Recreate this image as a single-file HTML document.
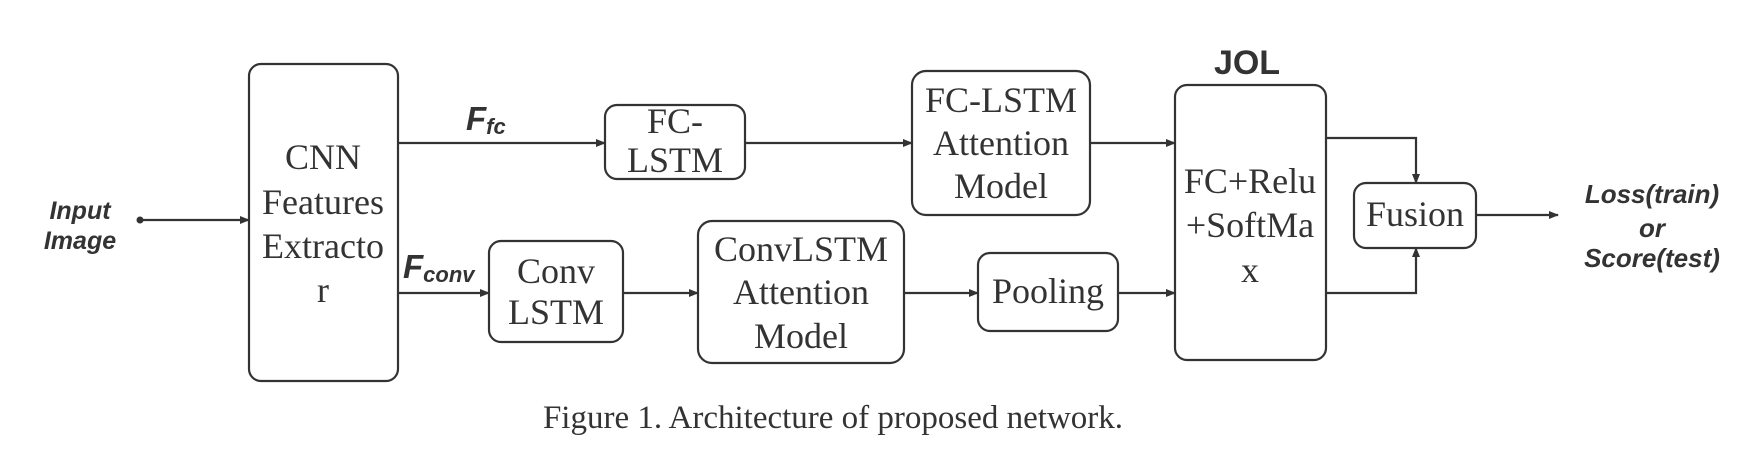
<!DOCTYPE html>
<html><head><meta charset="utf-8"><style>
html,body{margin:0;padding:0;background:#fff;}
svg{display:block;}
.b{fill:#fff;stroke:#333;stroke-width:2.2;}
.l{stroke:#333;stroke-width:2.2;fill:none;}
.t{font-family:"Liberation Serif",serif;font-size:36px;fill:#333;text-anchor:middle;}
.s{font-family:"Liberation Sans",sans-serif;font-weight:bold;font-style:italic;fill:#333;text-anchor:middle;}
</style></head><body>
<svg width="1758" height="456" viewBox="0 0 1758 456">
<defs><marker id="a" markerWidth="10" markerHeight="8" refX="9" refY="4" orient="auto" markerUnits="userSpaceOnUse"><path d="M0,0 L10,4 L0,8 z" fill="#333"/></marker></defs>
<rect class="b" x="249" y="64" width="149" height="317" rx="12"/>
<rect class="b" x="605" y="105" width="140" height="74" rx="12"/>
<rect class="b" x="912" y="71" width="178" height="144" rx="14"/>
<rect class="b" x="1175" y="85" width="151" height="275" rx="12"/>
<rect class="b" x="489" y="241" width="134" height="101" rx="12"/>
<rect class="b" x="698" y="221" width="206" height="142" rx="14"/>
<rect class="b" x="978" y="253" width="140" height="78" rx="12"/>
<rect class="b" x="1354" y="183" width="122" height="65" rx="12"/>
<circle cx="140" cy="220" r="3.5" fill="#333"/>
<line class="l" x1="140" y1="220" x2="249" y2="220" marker-end="url(#a)"/>
<line class="l" x1="398" y1="143" x2="605" y2="143" marker-end="url(#a)"/>
<line class="l" x1="745" y1="143" x2="912" y2="143" marker-end="url(#a)"/>
<line class="l" x1="1090" y1="143" x2="1175" y2="143" marker-end="url(#a)"/>
<line class="l" x1="398" y1="293" x2="489" y2="293" marker-end="url(#a)"/>
<line class="l" x1="623" y1="293" x2="698" y2="293" marker-end="url(#a)"/>
<line class="l" x1="904" y1="293" x2="978" y2="293" marker-end="url(#a)"/>
<line class="l" x1="1118" y1="293" x2="1175" y2="293" marker-end="url(#a)"/>
<polyline class="l" points="1326,138 1416,138 1416,183" marker-end="url(#a)"/>
<polyline class="l" points="1326,293 1416,293 1416,248" marker-end="url(#a)"/>
<line class="l" x1="1476" y1="215" x2="1558" y2="215" marker-end="url(#a)"/>
<text class="s" x="80" y="219" font-size="25">Input</text>
<text class="s" x="80" y="249" font-size="25">Image</text>
<text class="t"><tspan x="323" y="169">CNN</tspan><tspan x="323" y="214">Features</tspan><tspan x="323" y="258">Extracto</tspan><tspan x="323" y="302">r</tspan></text>
<text class="s" x="466" y="130" font-size="33" style="text-anchor:start">F<tspan font-size="22" dy="4">fc</tspan></text>
<text class="s" x="403" y="278" font-size="33" style="text-anchor:start">F<tspan font-size="22" dy="4">conv</tspan></text>
<text class="t"><tspan x="675" y="133">FC-</tspan><tspan x="675" y="172">LSTM</tspan></text>
<text class="t"><tspan x="1001" y="112">FC-LSTM</tspan><tspan x="1001" y="155">Attention</tspan><tspan x="1001" y="198">Model</tspan></text>
<text class="s" x="1247" y="74" font-size="34" style="font-style:normal">JOL</text>
<text class="t"><tspan x="1250" y="193">FC+Relu</tspan><tspan x="1250" y="237">+SoftMa</tspan><tspan x="1250" y="282">x</tspan></text>
<text class="t"><tspan x="556" y="283">Conv</tspan><tspan x="556" y="324">LSTM</tspan></text>
<text class="t"><tspan x="801" y="261">ConvLSTM</tspan><tspan x="801" y="304">Attention</tspan><tspan x="801" y="348">Model</tspan></text>
<text class="t" x="1048" y="303">Pooling</text>
<text class="t" x="1415" y="226">Fusion</text>
<text class="s" x="1652" y="203" font-size="26">Loss(train)</text>
<text class="s" x="1652" y="237" font-size="26">or</text>
<text class="s" x="1652" y="267" font-size="26">Score(test)</text>
<text class="t" x="833" y="428" style="font-size:33px">Figure 1. Architecture of proposed network.</text>
</svg>
</body></html>
